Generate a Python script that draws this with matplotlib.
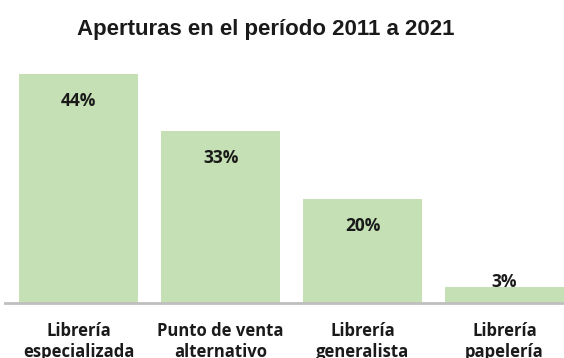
import matplotlib
matplotlib.use('Agg')
import matplotlib.pyplot as plt

categorias = ['Librería\nespecializada', 'Punto de venta\nalternativo',
              'Librería\ngeneralista', 'Librería\npapelería']
valores = [44, 33, 20, 3]
etiquetas = ['44%', '33%', '20%', '3%']

W, H = 564, 358
fig = plt.figure(figsize=(W / 100, H / 100), dpi=100)
ax = fig.add_axes([5 / W, 55 / H, 1 - 5 / W, 243 / H])

fuente = 'Open Sans'
x = range(len(valores))
ax.bar(x, valores, width=0.84, color='#C5E0B4', zorder=2)
ax.set_xlim(-0.52, 3.42)
ax.set_ylim(0, 46.7)

for i, (v, t) in enumerate(zip(valores, etiquetas)):
    if v > 10:
        ax.text(i, v - 5.2, t, ha='center', va='center', fontsize=12.5,
                fontweight='bold', family=fuente, color='#1a1a1a')
    else:
        ax.text(i, v + 1.0, t, ha='center', va='center', fontsize=12.5,
                fontweight='bold', family=fuente, color='#1a1a1a')

for s in ['top', 'right', 'left']:
    ax.spines[s].set_visible(False)
ax.spines['bottom'].set_color('#BFBFBF')
ax.spines['bottom'].set_linewidth(2)
ax.set_yticks([])
ax.set_xticks(list(x))
ax.set_xticklabels(categorias, fontsize=12, fontweight='bold', family=fuente,
                   color='#1a1a1a', linespacing=1.2)
ax.tick_params(axis='x', length=0, pad=14)

fig.text(266 / W, 1 - 30 / H, 'Aperturas en el período 2011 a 2021',
         ha='center', va='center', fontsize=16, fontweight='bold',
         family='Liberation Sans', color='#1a1a1a')

plt.savefig('out.png', dpi=100)
plt.close()
